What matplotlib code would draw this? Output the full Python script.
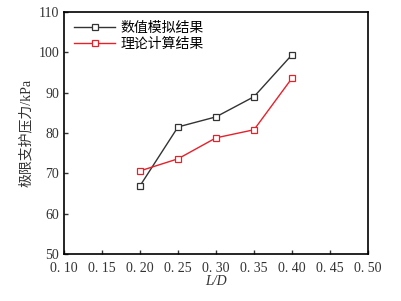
import numpy as np
import matplotlib
matplotlib.use("Agg")
import matplotlib.pyplot as plt

plt.rcParams['font.family'] = ['Liberation Serif', 'Noto Sans CJK SC']
plt.rcParams['font.size'] = 9

# Data
ratio = [0.20, 0.25, 0.30, 0.35, 0.40]
numerical = [66.9, 81.5, 84.0, 89.0, 99.4]
theoretical = [70.6, 73.6, 78.8, 80.8, 93.6]
xticks = [0.10, 0.15, 0.20, 0.25, 0.30, 0.35, 0.40, 0.45, 0.50]
yticks = [50, 60, 70, 80, 90, 100, 110]

fig = plt.figure(figsize=(4.02, 3.01), dpi=100)
ax = fig.add_axes([64 / 402, 1 - 254 / 301, (368 - 64) / 402, (254 - 12) / 301])

ax.plot(ratio, numerical, 's-', color='#333333', lw=1.0, ms=4,
        mfc='white', mec='#333333', mew=0.9, label='数值模拟结果')
ax.plot(ratio, theoretical, 's-', color='#e8202a', lw=1.0, ms=4,
        mfc='white', mec='#e8202a', mew=0.9, label='理论计算结果')

ax.set_xlim(0.10, 0.50)
ax.set_ylim(50, 110)
ax.set_xticks(xticks)
ax.set_xticklabels([f'{v:.2f}'.replace('.', '. ') for v in xticks])
ax.set_yticks(yticks)
ax.tick_params(direction='in', length=3, width=1, labelsize=10, colors='#333333')
ax.tick_params(axis='x', pad=6)
for s in ax.spines.values():
    s.set_linewidth(1.2)

ax.set_xlabel('L/D', style='italic', labelpad=0, color='#333333', fontsize=10)
ax.set_ylabel('极限支护压力/kPa', color='#333333', fontsize=10, labelpad=4)

leg = ax.legend(loc='upper left', frameon=False, fontsize=10,
                handlelength=3, handletextpad=0.4, borderaxespad=0.3,
                labelspacing=0.2)

fig.savefig('out.png', dpi=100)
